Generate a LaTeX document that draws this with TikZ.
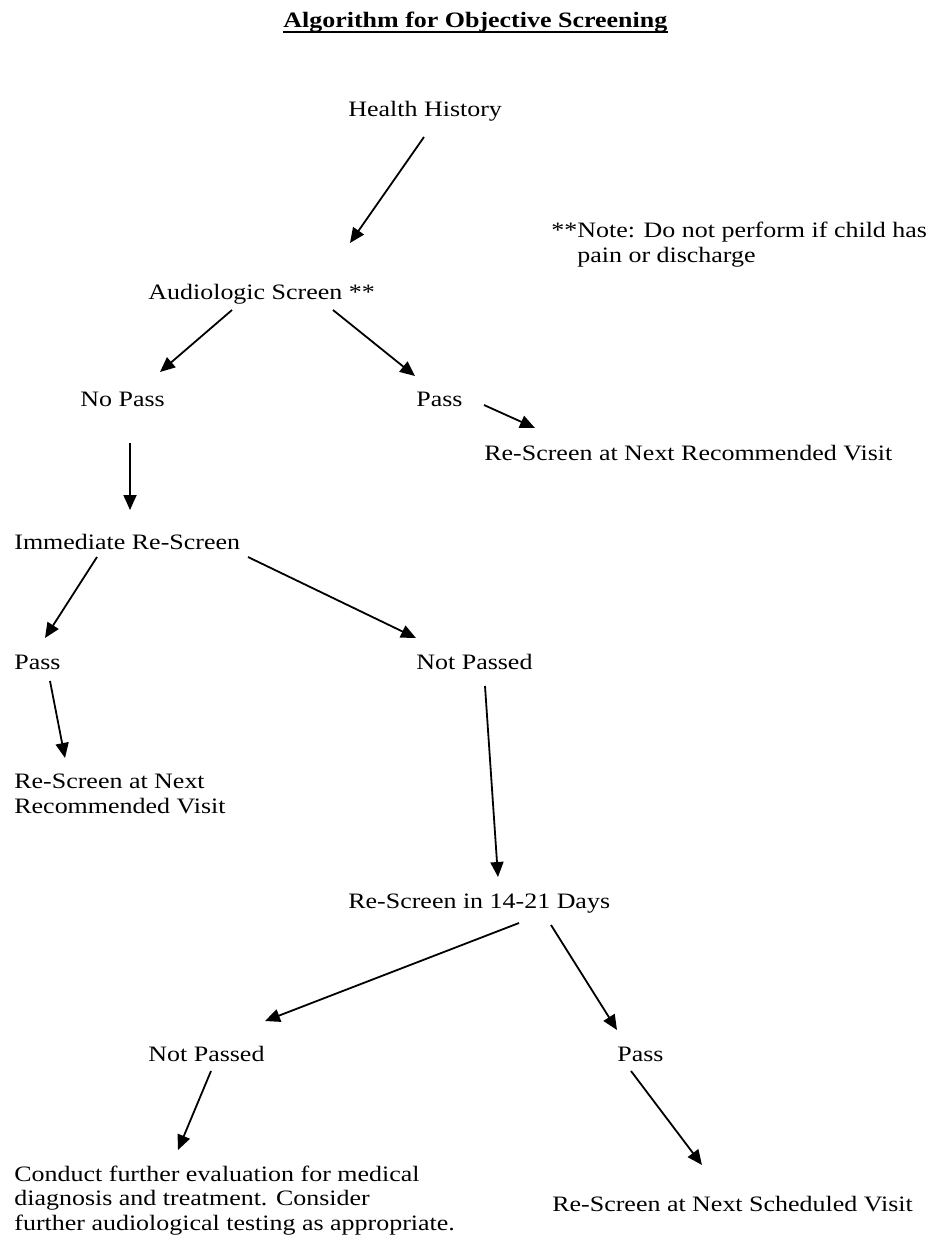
\documentclass[tikz,border=0pt]{standalone}
\usepackage{fontspec}
\setmainfont{Liberation Serif}[FakeStretch=1.18]
\usetikzlibrary{arrows.meta,calc}
\begin{document}
\begin{tikzpicture}[x=0.5pt,y=-0.5pt,
  lbl/.style={anchor=base west,inner sep=0pt,font=\fontsize{11}{12.25}\selectfont,align=left},
  arr/.style={-{Triangle[length=7.5pt,width=6.5pt]},line width=0.9pt}]
\useasboundingbox (0,0) rectangle (930,1249);
% title
\node[lbl,font=\fontsize{11}{12.25}\selectfont\bfseries] (title) at (283,27) {Algorithm for Objective Screening};
\draw[line width=1pt] ($(title.base west)+(0,5)$) -- ($(title.base east)+(0,5)$);
% texts (multi-line nodes: base = last line)
\node[lbl] (hh) at (348,116) {Health History};
\node[lbl] (note) at (551,262) {**Note: Do not perform if child has\\\phantom{**}pain or discharge};
\node[lbl] (as) at (148,299) {Audiologic Screen **};
\node[lbl] (np) at (80,406) {No Pass};
\node[lbl] (p1) at (416,406) {Pass};
\node[lbl] (rv1) at (484,460) {Re-Screen at Next Recommended Visit};
\node[lbl] (ir) at (14,549) {Immediate Re-Screen};
\node[lbl] (p2) at (14,669) {Pass};
\node[lbl] (np2) at (416,669) {Not Passed};
\node[lbl] (rv2) at (14,813) {Re-Screen at Next\\Recommended Visit};
\node[lbl] (ns) at (348,908) {Re-Screen in 14-21 Days};
\node[lbl] (np3) at (148,1061) {Not Passed};
\node[lbl] (p3) at (617,1061) {Pass};
\node[lbl] (cf) at (14,1230) {Conduct further evaluation for medical\\diagnosis and treatment. Consider\\further audiological testing as appropriate.};
\node[lbl] (rs) at (552,1211) {Re-Screen at Next Scheduled Visit};
% connectors
\draw[arr] ($(hh.base west)+(76,21)$) -- ($(as.base west)+(202,-56)$);
\draw[arr] ($(as.base west)+(84,11)$) -- ($(np.base west)+(80,-34)$);
\draw[arr] ($(as.base west)+(185,11)$) -- ($(p1.base west)+(-1,-30)$);
\draw[arr] ($(p1.base west)+(68,-1)$) -- ($(rv1.base west)+(51,-32)$);
\draw[arr] ($(np.base west)+(50,37)$) -- ($(ir.base west)+(116,-39)$);
\draw[arr] ($(ir.base west)+(83,8)$) -- ($(p2.base west)+(31,-31)$);
\draw[arr] ($(ir.base west)+(234,8)$) -- ($(np2.base west)+(0,-31)$);
\draw[arr] ($(p2.base west)+(36,12)$) -- ($(rv2.base west)+(51,-55)$);
\draw[arr] ($(np2.base west)+(69,17)$) -- ($(ns.base west)+(150,-31)$);
\draw[arr] ($(ns.base west)+(171,15)$) -- ($(np3.base west)+(117,-40)$);
\draw[arr] ($(ns.base west)+(203,17)$) -- ($(p3.base west)+(0,-31)$);
\draw[arr] ($(np3.base west)+(63,10)$) -- ($(cf.base west)+(164,-80)$);
\draw[arr] ($(p3.base west)+(14,10)$) -- ($(rs.base west)+(150,-46)$);
\end{tikzpicture}
\end{document}
